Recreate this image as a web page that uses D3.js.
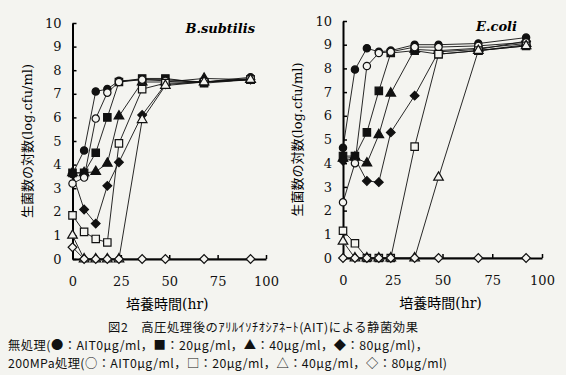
<!DOCTYPE html>
<html>
<head>
<meta charset="utf-8">
<script src="https://cdn.jsdelivr.net/npm/d3@7"></script>
<style>
  body { margin: 0; background: #f4f4f0; }
  svg { display: block; }
  .tick text { font-family: "DejaVu Serif", serif; font-size: 13px; fill: #111; }
  .cap { font-family: "Noto Sans CJK JP", sans-serif; font-size: 12.3px; fill: #111; }
</style>
</head>
<body>
<div id="chart"></div>
<script>
// sampling times (hr)
var hours = [0, 6, 12, 18, 24, 36, 48, 68, 92];
var xTicks = [0, 25, 50, 75, 100];
var yTicks = [0, 1, 2, 3, 4, 5, 6, 7, 8, 9, 10];

// B.subtilis, log cfu/ml
var bsNone0   = [3.6, 4.6, 7.1, 7.2, 7.55, 7.6, 7.6, 7.5, 7.7];
var bsNone20  = [3.65, 3.65, 4.5, 6.0, 7.5, 7.65, 7.65, 7.45, 7.6];
var bsNone40  = [3.65, 3.65, 3.7, 4.05, 6.05, 7.5, 7.5, 7.65, 7.6];
var bsNone80  = [3.6, 2.1, 1.5, 3.1, 4.1, 6.1, 7.4, 7.5, 7.6];
var bsHp0     = [3.2, 3.45, 5.95, 7.05, 7.5, 7.6, 7.55, 7.5, 7.65];
var bsHp20    = [1.85, 1.15, 0.85, 0.7, 4.9, 7.2, 7.45, 7.5, 7.6];
var bsHp40    = [1.0, 0, 0, 0, 0, 5.9, 7.35, 7.5, 7.6];
var bsHp80    = [0.5, 0, 0, 0, 0, 0, 0, 0, 0];

// E.coli, log cfu/ml
var ecNone0   = [4.65, 7.95, 8.85, 8.7, 8.75, 9.0, 9.0, 9.05, 9.3];
var ecNone20  = [4.3, 4.3, 5.3, 7.05, 8.65, 8.75, 8.6, 8.75, 9.0];
var ecNone40  = [4.2, 4.25, 4.0, 5.2, 6.95, 8.8, 8.75, 8.85, 9.05];
var ecNone80  = [4.1, 4.2, 3.25, 3.2, 5.3, 6.85, 8.7, 8.8, 9.15];
var ecHp0     = [2.35, 4.0, 8.1, 8.65, 8.7, 8.9, 8.9, 8.95, 9.1];
var ecHp20    = [1.15, 0.62, 0, 0, 0, 4.7, 8.6, 8.75, 8.95];
var ecHp40    = [0.7, 0, 0, 0, 0, 0, 3.4, 8.75, 8.95];
var ecHp80    = [0, 0, 0, 0, 0, 0, 0, 0, 0];

var shapes = ["circle", "square", "triangle", "diamond", "circle", "square", "triangle", "diamond"];
var filled = [true, true, true, true, false, false, false, false];

var bg = "#f4f4f0";
var W = 566, H = 375;

var svg = d3.select("#chart").append("svg")
    .attr("width", W)
    .attr("height", H);

svg.append("rect").attr("width", W).attr("height", H).attr("fill", bg);

function markerPath(shape) {
    if (shape == "circle") return d3.symbol().type(d3.symbolCircle).size(42)();
    if (shape == "square") return d3.symbol().type(d3.symbolSquare).size(55)();
    if (shape == "triangle") return d3.symbol().type(d3.symbolTriangle).size(40)();
    return d3.symbol().type(d3.symbolSquare).size(38)();
}

function panel(series, x0, x1, y0, y1, title, titleGap) {
    var x = d3.scaleLinear().domain([0, 100]).range([x0, x1]);
    var y = d3.scaleLinear().domain([0, 10]).range([y0, y1]);
    var g = svg.append("g");

    // axes, ticks pointing inward
    g.append("g")
        .attr("transform", "translate(0," + y0 + ")")
        .call(d3.axisBottom(x).tickValues(xTicks).tickSize(-4).tickPadding(18).tickSizeOuter(0))
        .call(function (a) {
            a.select(".domain").attr("stroke-width", 2);
            a.selectAll(".tick line").attr("stroke-width", 1.5);
        });
    g.append("g")
        .attr("transform", "translate(" + x0 + ",0)")
        .call(d3.axisLeft(y).tickValues(yTicks).tickSize(-4).tickPadding(11).tickSizeOuter(0))
        .call(function (a) {
            a.select(".domain").attr("stroke-width", 2);
            a.selectAll(".tick line").attr("stroke-width", 1.5);
        });

    var line = d3.line()
        .x(function (d, i) { return x(hours[i]); })
        .y(function (d) { return y(d); });

    series.forEach(function (s) {
        g.append("path")
            .attr("d", line(s))
            .attr("fill", "none")
            .attr("stroke", "#111")
            .attr("stroke-width", 0.9);
    });

    series.forEach(function (s, k) {
        g.selectAll(null)
            .data(s)
            .enter().append("path")
            .attr("d", markerPath(shapes[k]))
            .attr("transform", function (d, i) {
                var t = "translate(" + x(hours[i]) + "," + y(d) + ")";
                return shapes[k] == "diamond" ? t + " rotate(45)" : t;
            })
            .attr("fill", filled[k] ? "#111" : bg)
            .attr("stroke", "#111")
            .attr("stroke-width", 1.2);
    });

    g.append("text")
        .attr("x", x(100) - titleGap)
        .attr("y", y(10) + 10)
        .attr("text-anchor", "end")
        .style("font-family", "DejaVu Serif, serif")
        .style("font-style", "italic")
        .style("font-weight", "bold")
        .style("font-size", "13px")
        .text(title);

    g.append("text")
        .attr("x", (x(0) + x(100)) / 2 - 2)
        .attr("y", y0 + 50)
        .attr("text-anchor", "middle")
        .style("font-family", "DejaVu Serif, Noto Sans CJK JP, serif")
        .style("font-size", "14px")
        .text("培養時間(hr)");

    g.append("text")
        .attr("transform", "translate(" + (x0 - 41) + "," + ((y0 + y1) / 2) + ") rotate(-90)")
        .attr("text-anchor", "middle")
        .style("font-family", "DejaVu Serif, Noto Sans CJK JP, serif")
        .style("font-size", "13px")
        .text("生菌数の対数(log.cfu/ml)");
}

panel([bsNone0, bsNone20, bsNone40, bsNone80, bsHp0, bsHp20, bsHp40, bsHp80],
    72.5, 266, 259, 23, "B.subtilis", 11);
panel([ecNone0, ecNone20, ecNone40, ecNone80, ecHp0, ecHp20, ecHp40, ecHp80],
    343, 542, 258, 21, "E.coli", 25);

// caption
svg.append("text").attr("class", "cap")
    .attr("x", 108).attr("y", 332)
    .attr("textLength", 310).attr("lengthAdjust", "spacing")
    .text("図2　高圧処理後のｱﾘﾙｲｿﾁｵｼｱﾈｰﾄ(AIT)による静菌効果");
svg.append("text").attr("class", "cap")
    .attr("x", 8).attr("y", 350)
    .attr("textLength", 420).attr("lengthAdjust", "spacing")
    .text("無処理(●：AIT0μg/ml，■：20μg/ml，▲：40μg/ml，◆：80μg/ml)，");
svg.append("text").attr("class", "cap")
    .attr("x", 8).attr("y", 368)
    .attr("textLength", 439).attr("lengthAdjust", "spacing")
    .text("200MPa処理(○：AIT0μg/ml，□：20μg/ml，△：40μg/ml，◇：80μg/ml)");
</script>
</body>
</html>
